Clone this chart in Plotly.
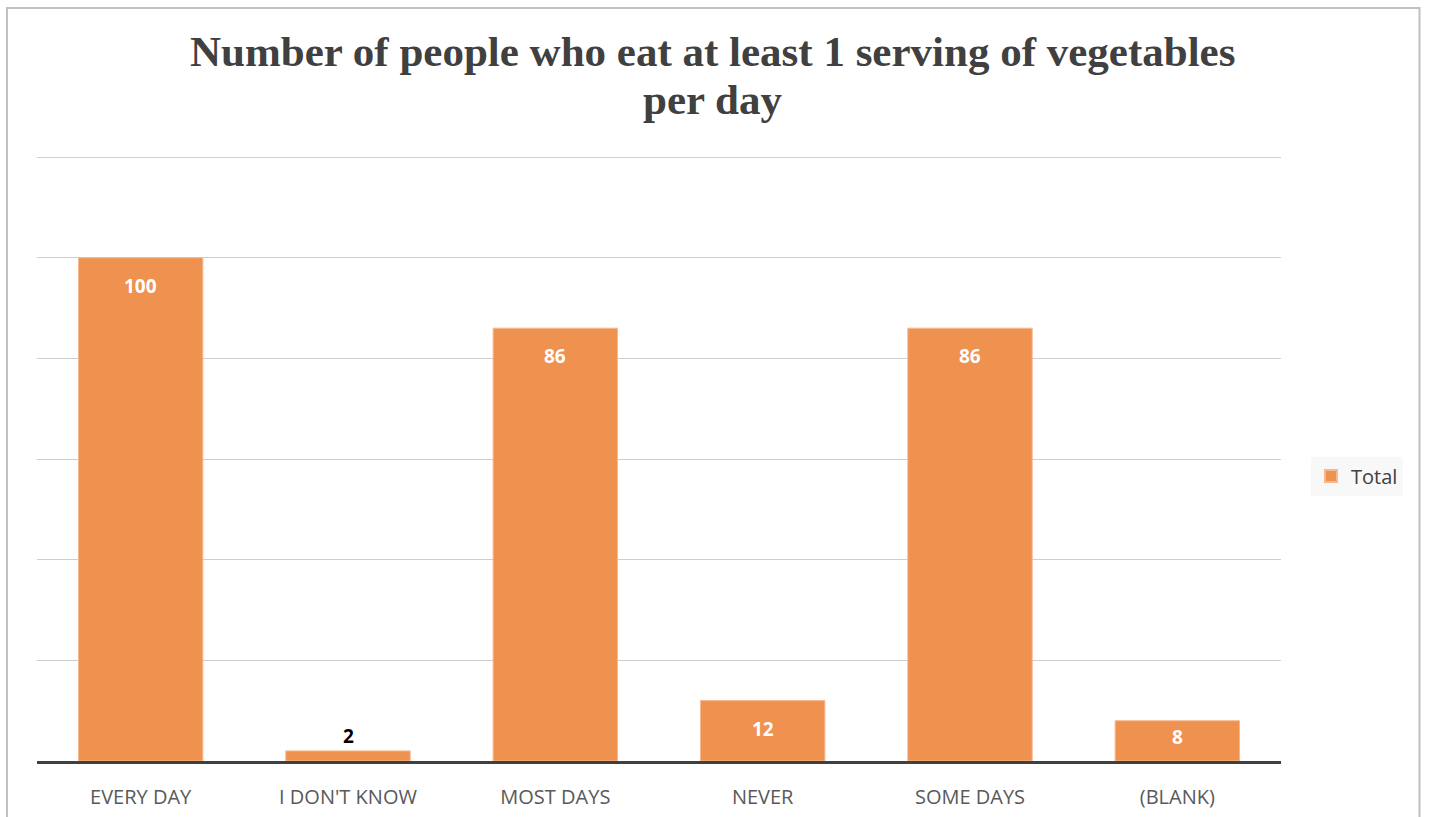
import plotly.graph_objects as go

categories = ["EVERY DAY", "I DON'T KNOW", "MOST DAYS", "NEVER", "SOME DAYS", "(BLANK)"]
totals = [100, 2, 86, 12, 86, 8]
y_ticks = [0, 20, 40, 60, 80, 100, 120]
title_lines = ["Number of people who eat at least 1 serving of vegetables", "per day"]

W, H = 1434, 817
ymax = 121
grid_top_px = 157
B = 56
L, R = 37, 153
unit_px = (H - B - grid_top_px) / 120
T = int(round(grid_top_px - (ymax - 120) * unit_px))
plot_w = W - L - R
plot_h = H - T - B

bar_color = "#EF914F"


def px_x(px):
    return (px - L) / plot_w


def px_y(py):
    return (H - B - py) / plot_h


fig = go.Figure()
fig.add_trace(go.Bar(
    x=categories, y=totals, name="Total",
    marker=dict(color=bar_color, line=dict(color="#F6B98E", width=1)),
    hoverinfo="x+y",
))

# data labels
for c, v in zip(categories, totals):
    bar_px = v * unit_px
    if v >= 10:
        shift, col = -28, "white"
    elif bar_px > 30:
        shift, col = -bar_px * 0.4, "white"
    else:
        shift, col = 15, "black"
    fig.add_annotation(x=c, y=v, yshift=shift, text=f"<b>{v}</b>", showarrow=False,
                       font=dict(family="Open Sans", size=19, color=col))

# title (two lines)
for i, line in enumerate(title_lines):
    fig.add_annotation(xref="paper", yref="paper", x=px_x(712), y=px_y(52 + 47 * i),
                       xanchor="center", yanchor="middle", showarrow=False,
                       text=f"<b>{line}</b>",
                       font=dict(family="Liberation Serif", size=43, color="#404040"))

# outer chart border
fig.add_shape(type="rect", xref="paper", yref="paper",
              x0=px_x(7), x1=px_x(1419.5), y0=px_y(840), y1=px_y(8),
              line=dict(color="#C0C0C0", width=2), fillcolor="rgba(0,0,0,0)", layer="below")

fig.update_layout(
    width=W, height=H,
    margin=dict(l=L, r=R, t=T, b=B, autoexpand=False),
    paper_bgcolor="white", plot_bgcolor="white",
    bargap=0.4,
    showlegend=True,
    legend=dict(x=px_x(1311), xanchor="left", y=px_y(476), yanchor="middle",
                bgcolor="#F8F8F8", font=dict(family="Open Sans", size=20, color="#404040"),
                itemsizing="constant"),
    xaxis=dict(showline=True, linecolor="#404040", linewidth=3, ticks="",
               tickfont=dict(family="Open Sans", size=20, color="#595959"),
               ticklabelstandoff=16, showgrid=False, fixedrange=True),
    yaxis=dict(range=[0, ymax], tickvals=y_ticks, showticklabels=False, showgrid=True,
               gridcolor="#CFCFCF", gridwidth=1, zeroline=False, showline=False, fixedrange=True),
)

fig.write_html("out.html")
